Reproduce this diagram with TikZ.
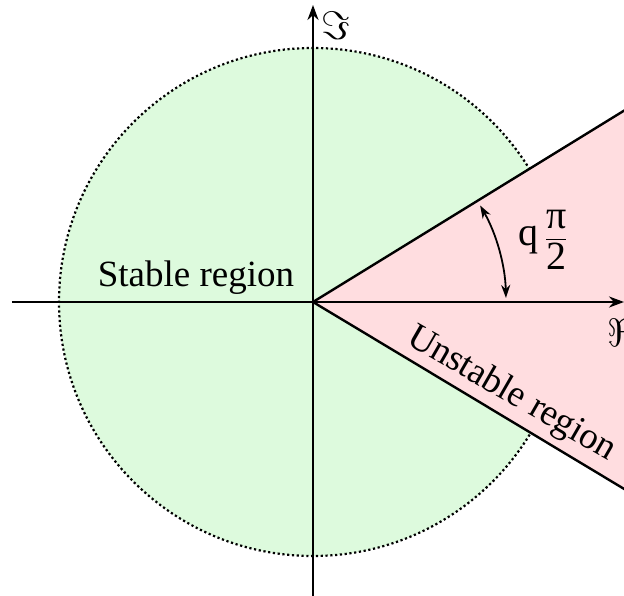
\documentclass[tikz,border=0pt]{standalone}
\usepackage{amsmath}
\usepackage{fontspec}
\setmainfont{Liberation Serif}
\newfontfamily\tnr{Liberation Serif}
\usetikzlibrary{arrows.meta,calc}
\definecolor{stablegreen}{RGB}{221,250,221}
\definecolor{unstablepink}{RGB}{255,221,224}
\tikzset{
  axis/.style={line width=2.4pt,-{Stealth[length=15pt,width=11pt]}},
  border/.style={line width=2.4pt},
  lbl/.style={inner sep=0pt,font=\tnr\fontsize{37}{44}\selectfont},
  axlbl/.style={inner sep=0pt,font=\fontsize{24.88}{30}\selectfont,scale=1.6},
  anglearrow/.style={line width=1.8pt,{Stealth[length=13pt,width=9pt]}-{Stealth[length=13pt,width=9pt]}}
}
\begin{document}
\begin{tikzpicture}[x=1pt,y=1pt]
\useasboundingbox (-313,-294) rectangle (311,302);
\coordinate (O) at (0,0);
% stable disc
\fill[stablegreen] (O) circle (254);
\draw[line width=2.2pt,dash pattern=on 2.2pt off 2.6pt] (O) circle (254);
% unstable wedge
\coordinate (U) at (31.6:420);
\coordinate (L) at (-31:420);
\fill[unstablepink] (O) -- (U) -- ($(U)+(200,0)$) -- ($(L)+(200,0)$) -- (L) -- cycle;
\draw[border] (O) -- (U);
\draw[border] (O) -- (L);
% axes
\coordinate (xs) at (-301,0);
\coordinate (xe) at (311,0);
\coordinate (ys) at (0,-296);
\coordinate (ye) at (0,297);
\draw[axis] (xs) -- (xe);
\draw[axis] (ys) -- (ye);
\node[axlbl] (im) at (23,276) {$\Im$};
\node[axlbl] (re) at (309,-31) {$\Re$};
% angle
\draw[anglearrow] (1.2:193) arc[start angle=1.2,end angle=30,radius=193];
\node[lbl,font=\tnr\fontsize{40}{48}\selectfont] (q) at (230,62) {q\,$\dfrac{\text{\tnr π}}{\text{\tnr 2}}$};
% labels
\node[lbl,anchor=base] (stable) at (-117,15) {Stable region};
\node[lbl,anchor=base,rotate=-30] (unstable) at (194,-100) {Unstable region};
\end{tikzpicture}
\end{document}
